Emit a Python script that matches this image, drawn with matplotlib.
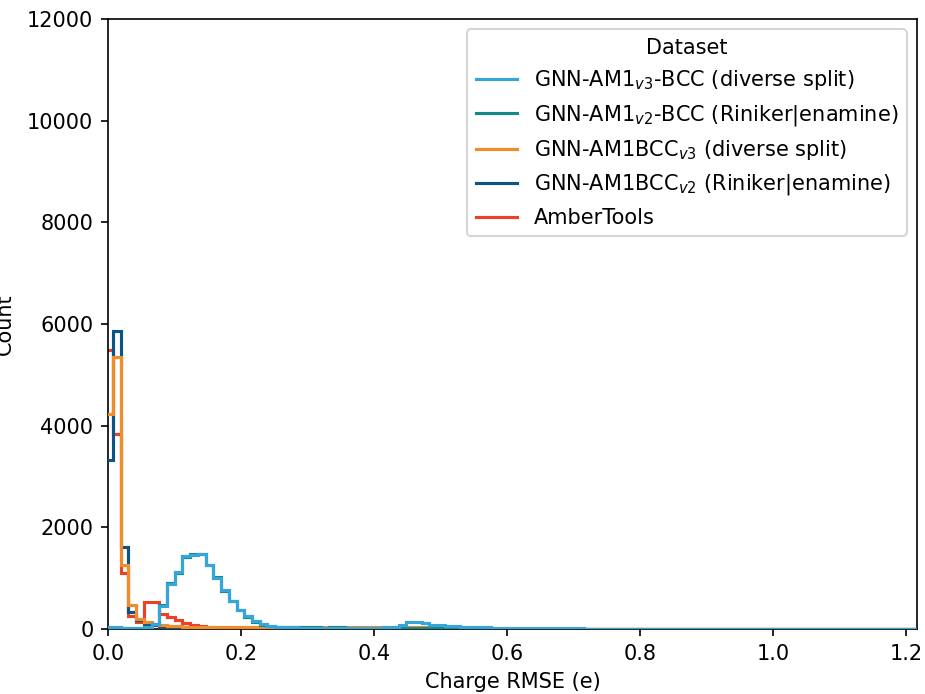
import numpy as np
import matplotlib
matplotlib.use("Agg")
import matplotlib.pyplot as plt

# Histogram binning of charge RMSE (e)
bin_start = -0.004
bin_width = 0.0116
n_bins = 106

def pad(vals, n=n_bins):
    vals = list(vals)
    return np.array(vals + [0] * (n - len(vals)), dtype=float)

labels = [
    r"GNN-AM1$_{v3}$-BCC (diverse split)",
    r"GNN-AM1$_{v2}$-BCC (Riniker|enamine)",
    r"GNN-AM1BCC$_{v3}$ (diverse split)",
    r"GNN-AM1BCC$_{v2}$ (Riniker|enamine)",
    "AmberTools",
]
colors = ["#36a6da", "#148a84", "#f28c28", "#0c5486", "#ea4128"]

am1_v3_diverse = pad([
    30, 30, 25, 20, 25, 40, 90, 450, 880, 1120, 1430, 1460, 1470, 1250, 1010,
    760, 560, 380, 250, 150, 90, 55, 40, 32, 30, 28, 26, 25, 24, 24,
    22, 22, 20, 20, 22, 25, 30, 45, 85, 130, 140, 115, 85, 70, 60,
    50, 45, 40, 35, 30, 26, 22, 20, 18, 16, 15, 14, 13, 12, 11,
    10, 10, 9, 9, 8, 8, 8, 7, 7, 7, 6, 6, 6, 6, 5,
    5, 5, 5, 5, 5, 4, 4, 4, 4, 4, 4, 4, 3, 3, 3,
    3, 3, 3, 3, 3, 3, 2, 2, 2, 2, 2, 2, 2, 2, 2, 2,
])
am1_v2_riniker = pad([
    25, 25, 20, 18, 22, 40, 100, 470, 900, 1100, 1420, 1470, 1480, 1260, 1020,
    740, 550, 370, 240, 140, 85, 50, 38, 32, 30, 30, 32, 30, 28, 30,
    30, 28, 26, 25, 24, 22, 22, 22, 22, 22, 20, 20, 18, 16, 15,
    14, 12, 10, 9, 8, 7, 6, 5, 5, 4, 4, 3, 3, 3, 3,
    2, 2, 2, 2, 2, 2, 2, 1, 1, 1,
])
am1bcc_v3_diverse = pad([
    4230, 5350, 1250, 480, 200, 130, 100, 70, 60, 50, 45, 40, 40, 38, 36,
    35, 34, 34, 33, 33, 32, 32, 32, 32, 31, 31, 30, 30, 30, 30,
    30, 30, 30, 30, 30, 32, 35, 40, 42, 45, 42, 38, 34, 28, 22,
    16, 10, 6, 3, 2, 1,
])
am1bcc_v2_riniker = pad([
    3330, 5870, 1610, 330, 180, 100, 70, 45, 35, 30, 25, 22, 20, 18, 16,
    14, 12, 10, 9, 8, 7, 6, 5, 4, 4, 3, 3, 2, 2, 2,
])
ambertools = pad([
    5480, 3830, 1100, 260, 140, 540, 540, 290, 240, 180, 120, 80, 50, 30, 20,
    15, 10, 8, 6, 5, 4, 3, 2, 2, 1,
])
series = [am1_v3_diverse, am1_v2_riniker, am1bcc_v3_diverse,
          am1bcc_v2_riniker, ambertools]

edges = bin_start + bin_width * np.arange(n_bins + 1)

DPI = 150
fig = plt.figure(figsize=(926 / DPI, 694 / DPI), dpi=DPI)
ax = fig.add_axes([0.1166, 0.0937, 0.8737, 0.8789])

# later series drawn first so the first legend entry sits on top
for counts, color, zo in zip(reversed(series), reversed(colors), range(1, 6)):
    ax.stairs(counts, edges, baseline=0, fill=False, color=color,
              linewidth=1.5, zorder=zo + 1)

ax.set_xlim(0, 1.216)
ax.set_ylim(0, 12000)
ax.set_xlabel("Charge RMSE (e)")
ax.set_ylabel("Count", labelpad=6)

handles = [plt.Line2D([], [], color=c, linewidth=1.5) for c in colors]
ax.legend(handles, labels, title="Dataset", loc="upper right")

fig.savefig("out.png", dpi=DPI)
